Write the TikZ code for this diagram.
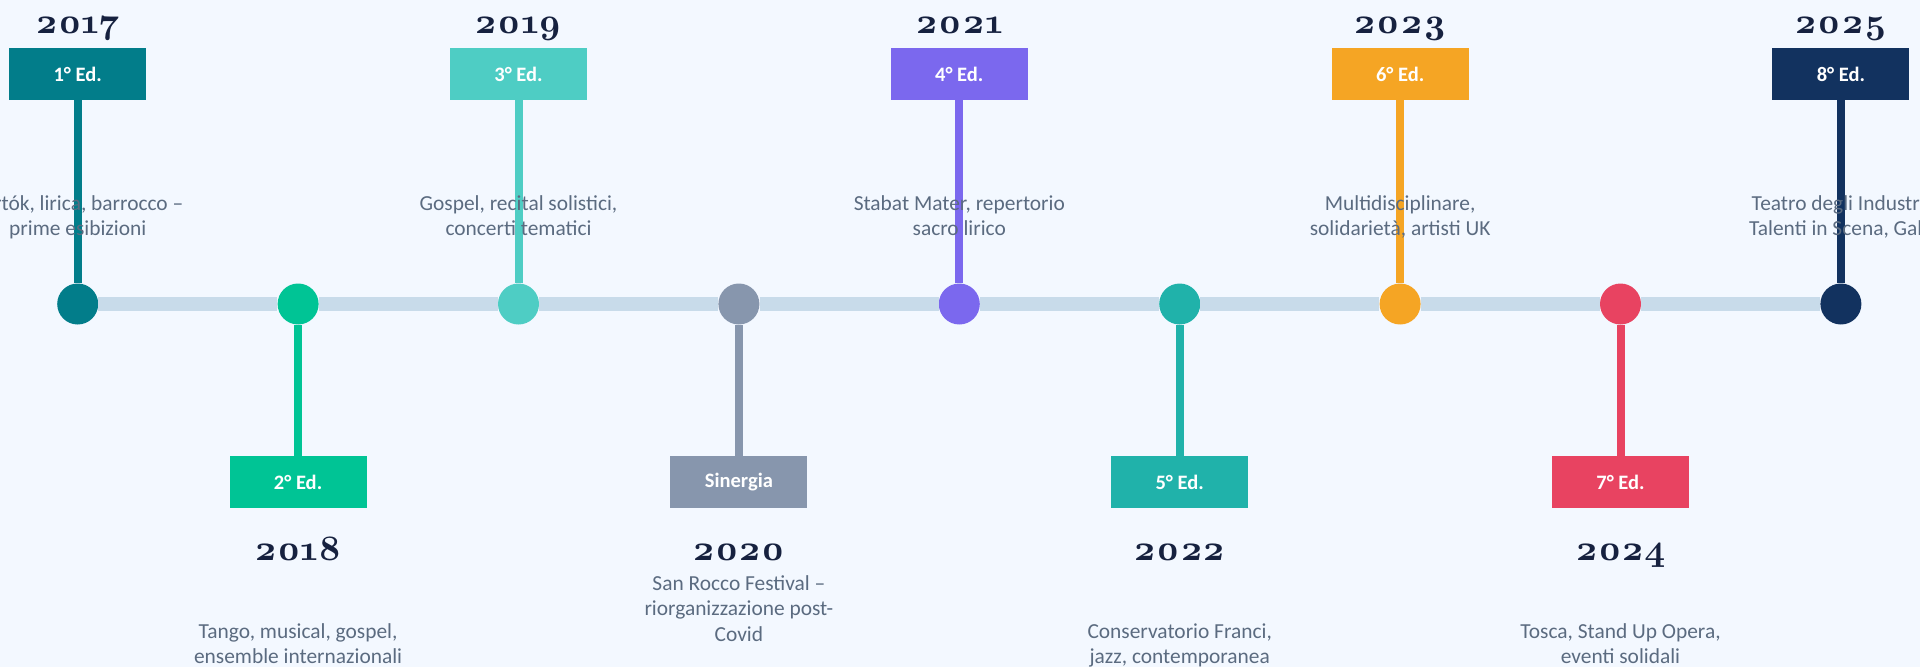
\documentclass[tikz,border=0pt]{standalone}
\usepackage{fontspec}
\setmainfont{Carlito}
\newfontfamily\yearfont{lmroman10-bold.otf}[Numbers=OldStyle]
\usetikzlibrary{positioning}

\definecolor{bgblue}{HTML}{F3F8FF}
\definecolor{barblue}{HTML}{C8DBEA}
\definecolor{yearnavy}{HTML}{16213F}
\definecolor{descgray}{HTML}{5B6B80}
\definecolor{edone}{HTML}{027D8A}
\definecolor{edtwo}{HTML}{00C495}
\definecolor{edthree}{HTML}{4ECDC4}
\definecolor{edsyn}{HTML}{8796AD}
\definecolor{edfour}{HTML}{7B68EE}
\definecolor{edfive}{HTML}{20B2AA}
\definecolor{edsix}{HTML}{F5A524}
\definecolor{edseven}{HTML}{E84361}
\definecolor{edeight}{HTML}{12325F}

\tikzset{
	stone/.style={circle, minimum size=41pt, inner sep=0pt, fill=#1},
	edbox/.style={rectangle, minimum width=137pt, minimum height=52pt, inner sep=0pt, fill=#1, text=white, font=\fontsize{20.5}{24}\selectfont\bfseries},
	stem/.style={line width=8pt, color=#1},
	timebar/.style={line width=14pt, color=barblue},
	yr/.style={anchor=base, text=yearnavy, font=\fontsize{36}{40}\yearfont},
	desc/.style={anchor=base, align=center, text=descgray, font=\fontsize{21.4}{25.6}\selectfont},
}

\begin{document}
\begin{tikzpicture}[x=1pt, y=-1pt]
			%%%%% START %%%%%
			
			\fill[bgblue] (0, 0) rectangle (1920, 667);
			\useasboundingbox (0, 0) rectangle (1920, 667);
			
			% milestones on the line
			\node[stone=edone] (c1) at (77.7, 304) {};
			\node[stone=edtwo] (c2) at (298.1, 304) {};
			\node[stone=edthree] (c3) at (518.5, 304) {};
			\node[stone=edsyn] (c4) at (738.9, 304) {};
			\node[stone=edfour] (c5) at (959.3, 304) {};
			\node[stone=edfive] (c6) at (1179.7, 304) {};
			\node[stone=edsix] (c7) at (1400.1, 304) {};
			\node[stone=edseven] (c8) at (1620.5, 304) {};
			\node[stone=edeight] (c9) at (1840.9, 304) {};
			
			% edition boxes
			\node[edbox=edone] (b1) at (77.7, 74) {1° Ed.};
			\node[edbox=edtwo] (b2) at (298.1, 482) {2° Ed.};
			\node[edbox=edthree] (b3) at (518.5, 74) {3° Ed.};
			\node[edbox=edsyn] (b4) at (738.9, 482) {Sinergia};
			\node[edbox=edfour] (b5) at (959.3, 74) {4° Ed.};
			\node[edbox=edfive] (b6) at (1179.7, 482) {5° Ed.};
			\node[edbox=edsix] (b7) at (1400.1, 74) {6° Ed.};
			\node[edbox=edseven] (b8) at (1620.5, 482) {7° Ed.};
			\node[edbox=edeight] (b9) at (1840.9, 74) {8° Ed.};
			
			\draw[timebar] (c1) -- (c2) (c2) -- (c3) (c3) -- (c4) (c4) -- (c5)
				(c5) -- (c6) (c6) -- (c7) (c7) -- (c8) (c8) -- (c9);
			
			\draw[stem=edone] (b1) -- (c1);
			\draw[stem=edtwo] (b2) -- (c2);
			\draw[stem=edthree] (b3) -- (c3);
			\draw[stem=edsyn] (b4) -- (c4);
			\draw[stem=edfour] (b5) -- (c5);
			\draw[stem=edfive] (b6) -- (c6);
			\draw[stem=edsix] (b7) -- (c7);
			\draw[stem=edseven] (b8) -- (c8);
			\draw[stem=edeight] (b9) -- (c9);
			
			% years
			\node[yr] (y1) at (77.7, 33) {2017};
			\node[yr] (y2) at (298.1, 560) {2018};
			\node[yr] (y3) at (518.5, 33) {2019};
			\node[yr] (y4) at (738.9, 560) {2020};
			\node[yr] (y5) at (959.3, 33) {2021};
			\node[yr] (y6) at (1179.7, 560) {2022};
			\node[yr] (y7) at (1400.1, 33) {2023};
			\node[yr] (y8) at (1620.5, 560) {2024};
			\node[yr] (y9) at (1840.9, 33) {2025};
			
			% descriptions (base = last line)
			\node[desc] (d1) at (77.7, 235.6) {Bartók, lirica, barrocco –\\prime esibizioni};
			\node[desc] (d2) at (298.1, 663.6) {Tango, musical, gospel,\\ensemble internazionali};
			\node[desc] (d3) at (518.5, 235.6) {Gospel, recital solistici,\\concerti tematici};
			\node[desc] (d4) at (738.9, 641.2) {San Rocco Festival –\\riorganizzazione post-\\Covid};
			\node[desc] (d5) at (959.3, 235.6) {Stabat Mater, repertorio\\sacro lirico};
			\node[desc] (d6) at (1179.7, 663.6) {Conservatorio Franci,\\jazz, contemporanea};
			\node[desc] (d7) at (1400.1, 235.6) {Multidisciplinare,\\solidarietà, artisti UK};
			\node[desc] (d8) at (1620.5, 663.6) {Tosca, Stand Up Opera,\\eventi solidali};
			\node[desc] (d9) at (1840.9, 235.6) {Teatro degli Industri,\\Talenti in Scena, Gala};
			
			%%%%% END %%%%%
\end{tikzpicture}
\end{document}
